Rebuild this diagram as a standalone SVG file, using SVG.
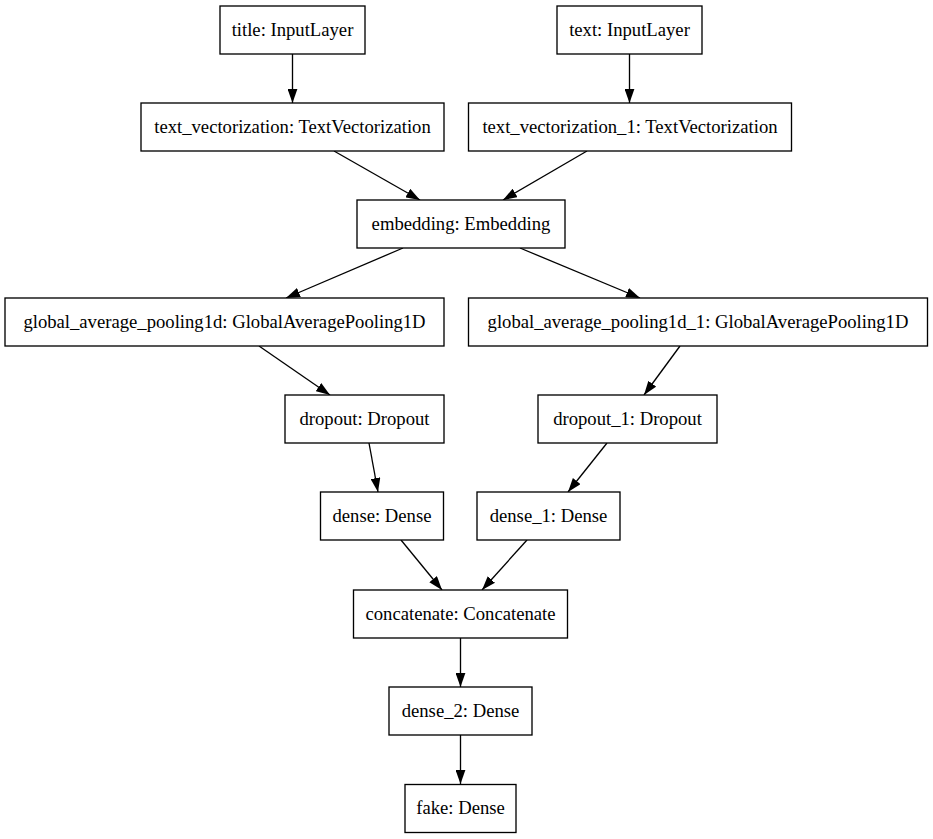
<svg xmlns="http://www.w3.org/2000/svg" width="933" height="839" viewBox="0 0 933 839">
<style>
.n rect{fill:#fff;stroke:#000;stroke-width:1.33}
.n text{font-family:"Liberation Serif","Times New Roman",serif;font-size:18.67px;fill:#000;text-anchor:middle}
.e line{stroke:#000;stroke-width:1.33;marker-end:url(#ah)}
</style>
<defs>
<marker id="ah" markerUnits="userSpaceOnUse" markerWidth="14" markerHeight="10" refX="13.3" refY="4.65" orient="auto" viewBox="0 0 13.3 9.3">
<path d="M0,0 L13.3,4.65 L0,9.3 z" fill="#000"/>
</marker>
</defs>
<rect width="933" height="839" fill="#fff"/>
<g id="edges" class="e">
<line x1="292.5" y1="54" x2="292.5" y2="103"/>
<line x1="629.5" y1="54" x2="629.5" y2="103"/>
<line x1="334" y1="151" x2="420" y2="200"/>
<line x1="587" y1="151" x2="503" y2="200"/>
<line x1="403" y1="248" x2="286" y2="298"/>
<line x1="520" y1="248" x2="640" y2="298"/>
<line x1="259" y1="346" x2="330" y2="395"/>
<line x1="680" y1="346" x2="644" y2="395"/>
<line x1="369" y1="443" x2="378" y2="492"/>
<line x1="607" y1="443" x2="568" y2="492"/>
<line x1="401" y1="540" x2="442" y2="590"/>
<line x1="527" y1="540" x2="482" y2="590"/>
<line x1="460.5" y1="638" x2="460.5" y2="687"/>
<line x1="460.5" y1="735" x2="460.5" y2="784"/>
</g>
<g id="title" class="n"><rect x="220" y="6" width="145" height="48"/><text x="292.5" y="36">title: InputLayer</text></g>
<g id="text" class="n"><rect x="557" y="6" width="145" height="48"/><text x="629.5" y="36">text: InputLayer</text></g>
<g id="text_vectorization" class="n"><rect x="141" y="103" width="303" height="48"/><text x="292.5" y="133">text_vectorization: TextVectorization</text></g>
<g id="text_vectorization_1" class="n"><rect x="468.5" y="103" width="323" height="48"/><text x="630" y="133">text_vectorization_1: TextVectorization</text></g>
<g id="embedding" class="n"><rect x="357" y="200" width="208" height="48"/><text x="461" y="230">embedding: Embedding</text></g>
<g id="global_average_pooling1d" class="n"><rect x="5" y="298" width="439" height="48"/><text x="224.5" y="328">global_average_pooling1d: GlobalAveragePooling1D</text></g>
<g id="global_average_pooling1d_1" class="n"><rect x="468.5" y="298" width="459" height="48"/><text x="698" y="328">global_average_pooling1d_1: GlobalAveragePooling1D</text></g>
<g id="dropout" class="n"><rect x="285" y="395" width="159" height="48"/><text x="364.5" y="425">dropout: Dropout</text></g>
<g id="dropout_1" class="n"><rect x="538" y="395" width="179" height="48"/><text x="627.5" y="425">dropout_1: Dropout</text></g>
<g id="dense" class="n"><rect x="320.5" y="492" width="123" height="48"/><text x="382" y="522">dense: Dense</text></g>
<g id="dense_1" class="n"><rect x="477" y="492" width="143" height="48"/><text x="548.5" y="522">dense_1: Dense</text></g>
<g id="concatenate" class="n"><rect x="353.5" y="590" width="214" height="48"/><text x="460.5" y="620">concatenate: Concatenate</text></g>
<g id="dense_2" class="n"><rect x="389" y="687" width="143" height="48"/><text x="460.5" y="717">dense_2: Dense</text></g>
<g id="fake" class="n"><rect x="405" y="784.5" width="111" height="48"/><text x="460.5" y="814">fake: Dense</text></g>
</svg>
